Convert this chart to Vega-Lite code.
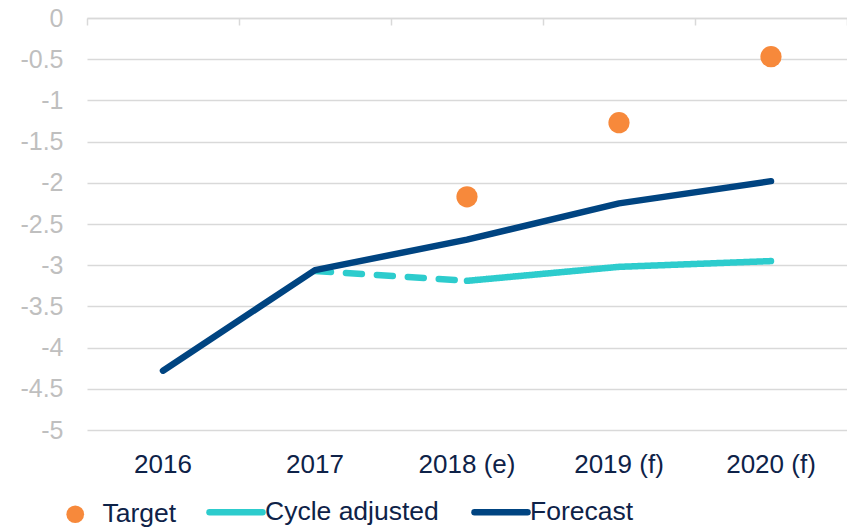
{
  "$schema": "https://vega.github.io/schema/vega-lite/v6.json",
  "width": 760,
  "height": 412,
  "autosize": {"type": "none"},
  "padding": {"left": 87, "top": 18, "right": 0, "bottom": 97},
  "background": "white",
  "config": {"view": {"stroke": null}, "font": "Liberation Sans"},
  "datasets": {
    "lines": [
      {"year": "2016", "value": -4.28, "series": "Forecast", "style": "solid"},
      {"year": "2017", "value": -3.06, "series": "Forecast", "style": "solid"},
      {"year": "2018 (e)", "value": -2.69, "series": "Forecast", "style": "solid"},
      {"year": "2019 (f)", "value": -2.25, "series": "Forecast", "style": "solid"},
      {"year": "2020 (f)", "value": -1.98, "series": "Forecast", "style": "solid"},
      {"year": "2017", "value": -3.07, "series": "Cycle adjusted", "style": "dashed"},
      {"year": "2018 (e)", "value": -3.19, "series": "Cycle adjusted", "style": "dashed"},
      {"year": "2018 (e)", "value": -3.19, "series": "Cycle adjusted", "style": "solid"},
      {"year": "2019 (f)", "value": -3.02, "series": "Cycle adjusted", "style": "solid"},
      {"year": "2020 (f)", "value": -2.95, "series": "Cycle adjusted", "style": "solid"}
    ],
    "targets": [
      {"year": "2018 (e)", "value": -2.17, "series": "Target"},
      {"year": "2019 (f)", "value": -1.27, "series": "Target"},
      {"year": "2020 (f)", "value": -0.47, "series": "Target"}
    ]
  },
  "resolve": {"axis": {"x": "independent"}},
  "layer": [
    {
      "data": {"name": "lines"},
      "transform": [{"filter": "datum.series == 'Cycle adjusted'"}],
      "mark": {"type": "line", "strokeWidth": 6.5, "strokeCap": "round", "strokeJoin": "round"},
      "encoding": {
        "x": {
          "field": "year", "type": "nominal",
          "scale": {"type": "band", "domain": ["2016", "2017", "2018 (e)", "2019 (f)", "2020 (f)"], "paddingInner": 0, "paddingOuter": 0},
          "axis": {"orient": "bottom", "title": null, "domain": false, "ticks": false, "grid": false, "labelAngle": 0, "labelFontSize": 26, "labelColor": "#0E2248", "labelPadding": 21, "labelLimit": 300}
        },
        "y": {
          "field": "value", "type": "quantitative",
          "scale": {"domain": [-5, 0], "nice": false, "zero": false},
          "axis": {"title": null, "values": [-5, -4.5, -4, -3.5, -3, -2.5, -2, -1.5, -1, -0.5, 0], "labelExpr": "'' + datum.value", "domain": false, "ticks": false, "grid": true, "gridColor": "#D9D9D9", "gridWidth": 1.5, "labelColor": "#BFBFBF", "labelFontSize": 25, "labelPadding": 24}
        },
        "color": {
          "field": "series", "type": "nominal",
          "scale": {"domain": ["Cycle adjusted", "Forecast"], "range": ["#2DCCCD", "#004481"]},
          "legend": {
            "title": null, "orient": "none", "legendX": 119, "legendY": 464, "direction": "horizontal",
            "symbolType": "stroke", "symbolSize": 2809, "symbolStrokeWidth": 6.5,
            "labelFontSize": 26.5, "labelColor": "#0E2248", "labelOffset": -1, "columnPadding": 22, "labelLimit": 400, "padding": 0,
            "encode": {"symbols": {"update": {"strokeCap": {"value": "round"}}}}
          }
        },
        "strokeDash": {
          "field": "style", "type": "nominal",
          "scale": {"domain": ["solid", "dashed"], "range": [[1, 0], [16, 15]]},
          "legend": null
        }
      }
    },
    {
      "data": {"name": "lines"},
      "transform": [{"filter": "datum.series == 'Forecast'"}],
      "mark": {"type": "line", "strokeWidth": 6.5, "strokeCap": "round", "strokeJoin": "round"},
      "encoding": {
        "x": {"field": "year", "type": "nominal", "axis": null},
        "y": {"field": "value", "type": "quantitative"},
        "color": {"field": "series", "type": "nominal"}
      }
    },
    {
      "data": {"name": "targets"},
      "mark": {"type": "point", "filled": true, "opacity": 1, "size": 450, "color": "#F7893B"},
      "encoding": {
        "x": {
          "field": "year", "type": "nominal",
          "axis": {"orient": "top", "title": null, "labels": false, "domain": true, "domainColor": "#D9D9D9", "domainWidth": 1.5, "ticks": true, "tickColor": "#D9D9D9", "tickWidth": 1.5, "tickSize": -7, "tickBand": "extent", "grid": false}
        },
        "y": {"field": "value", "type": "quantitative"},
        "shape": {
          "field": "series", "type": "nominal",
          "scale": {"domain": ["Target"], "range": ["circle"]},
          "legend": {
            "title": null, "orient": "none", "legendX": -25, "legendY": 483,
            "symbolSize": 314, "symbolFillColor": "#F7893B", "symbolStrokeColor": "#F7893B", "symbolStrokeWidth": 0,
            "labelFontSize": 26.5, "labelColor": "#0E2248", "labelOffset": 14, "padding": 0
          }
        }
      }
    }
  ]
}
